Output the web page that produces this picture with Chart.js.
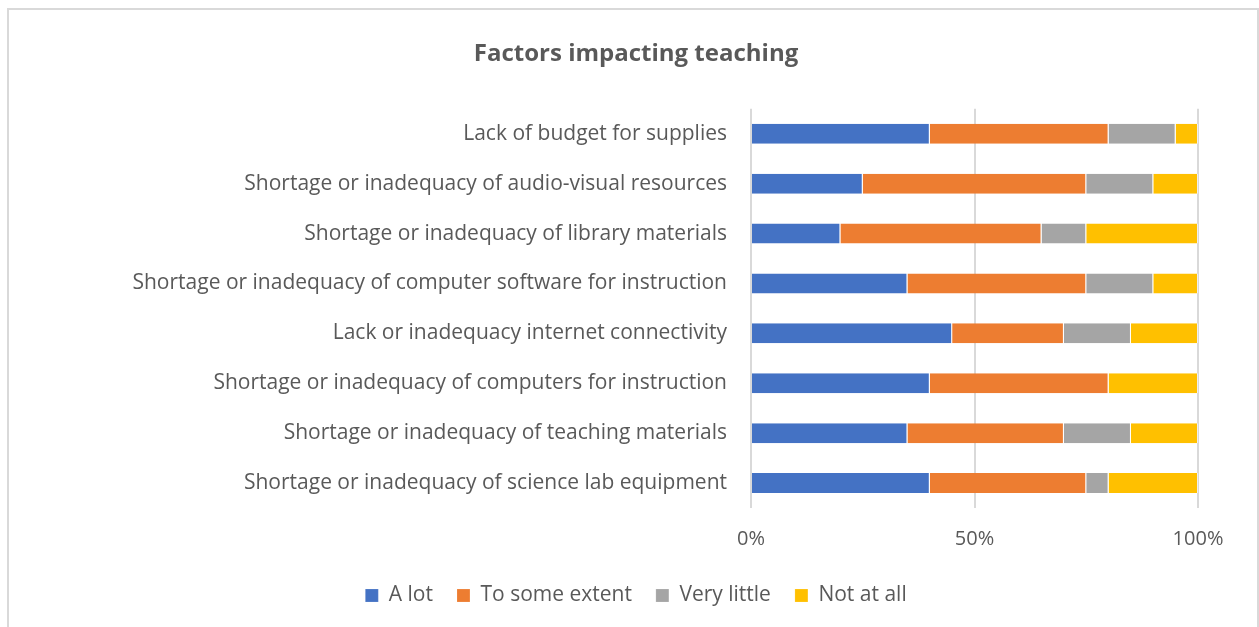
<!DOCTYPE html>
<html>
<head>
<meta charset="utf-8">
<script src="https://cdn.jsdelivr.net/npm/chart.js@4"></script>
<style>
  html, body { margin: 0; padding: 0; background: #fff; overflow: hidden; }
  #frame {
    position: absolute; left: 7px; top: 8px;
    width: 1248px; height: 640px;
    border: 2px solid #d9d9d9; border-bottom: none;
  }
  #chart { display: block; }
</style>
</head>
<body>
<div id="frame"><canvas id="chart" width="1248" height="617"></canvas></div>
<script>
const factors = [
  "Lack of budget for supplies",
  "Shortage or inadequacy of audio-visual resources",
  "Shortage or inadequacy of library materials",
  "Shortage or inadequacy of computer software for instruction",
  "Lack or inadequacy internet connectivity",
  "Shortage or inadequacy of computers for instruction",
  "Shortage or inadequacy of teaching materials",
  "Shortage or inadequacy of science lab equipment"
];
const aLot         = [40, 25, 20, 35, 45, 40, 35, 40];
const toSomeExtent = [40, 50, 45, 40, 25, 40, 35, 35];
const veryLittle   = [15, 15, 10, 15, 15,  0, 15,  5];
const notAtAll     = [ 5, 10, 25, 10, 15, 20, 15, 20];
const xTicks = [0, 50, 100];

const FONT = "'Open Sans', Lato, sans-serif";
const TEXT = "#595959";

function series(label, data, color) {
  return {
    label: label,
    data: data,
    backgroundColor: color,
    borderColor: "rgba(255,255,255,0.6)",
    borderWidth: { right: 1 },
    borderSkipped: false,
    barPercentage: 0.4,
    categoryPercentage: 1.0
  };
}

const ctx = document.getElementById("chart").getContext("2d");
new Chart(ctx, {
  type: "bar",
  data: {
    labels: factors,
    datasets: [
      series("A lot", aLot, "#4472C4"),
      series("To some extent", toSomeExtent, "#ED7D31"),
      series("Very little", veryLittle, "#A5A5A5"),
      series("Not at all", notAtAll, "#FFC000")
    ]
  },
  options: {
    indexAxis: "y",
    responsive: false,
    animation: false,
    // uneven side padding keeps the title and legend centred like the original
    layout: { padding: { left: 65, right: 59, top: 0, bottom: 11 } },
    plugins: {
      title: {
        display: true,
        text: "Factors impacting teaching",
        color: TEXT,
        font: { family: FONT, size: 24, weight: "bold" },
        padding: { top: 30, bottom: 40 }
      },
      legend: {
        position: "bottom",
        labels: {
          color: TEXT,
          font: { family: FONT, size: 21 },
          boxWidth: 13,
          boxHeight: 13,
          padding: 24
        }
      },
      tooltip: { enabled: false }
    },
    scales: {
      x: {
        stacked: true,
        min: 0,
        max: 100,
        afterBuildTicks: (scale) => {
          scale.ticks = xTicks.map(v => ({ value: v }));
        },
        afterFit: (scale) => { scale.height = 53; },
        grid: { color: "#d9d9d9", lineWidth: 2, drawTicks: false },
        border: { display: false },
        ticks: {
          color: TEXT,
          font: { family: FONT, size: 20 },
          padding: 19,
          callback: (v) => v + "%"
        }
      },
      y: {
        stacked: true,
        grid: { display: false, drawTicks: false },
        border: { display: false },
        afterFit: (scale) => { scale.width = 677; },
        ticks: {
          color: TEXT,
          font: { family: FONT, size: 21 },
          padding: 24
        }
      }
    }
  }
});
</script>
</body>
</html>
